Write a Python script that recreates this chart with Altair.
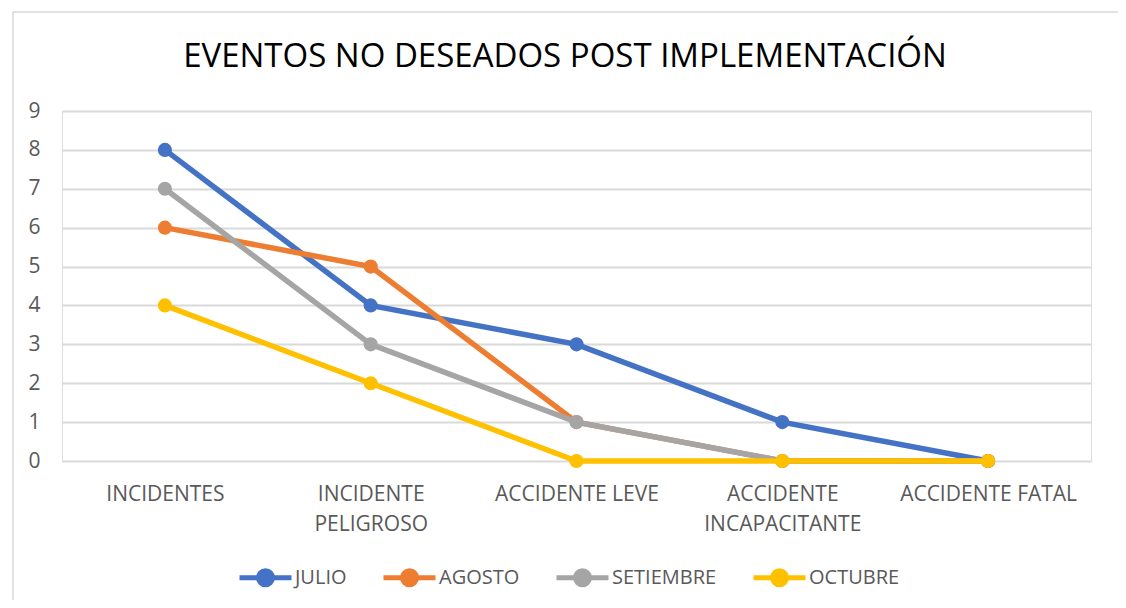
import altair as alt
import pandas as pd

title_text = "EVENTOS NO DESEADOS POST IMPLEMENTACIÓN"
categories = ["INCIDENTES", "INCIDENTE PELIGROSO", "ACCIDENTE LEVE",
              "ACCIDENTE INCAPACITANTE", "ACCIDENTE FATAL"]
series_names = ["JULIO", "AGOSTO", "SETIEMBRE", "OCTUBRE"]
julio = [8, 4, 3, 1, 0]
agosto = [6, 5, 1, 0, 0]
setiembre = [7, 3, 1, 0, 0]
octubre = [4, 2, 0, 0, 0]
colors = ["#4472C4", "#ED7D31", "#A5A5A5", "#FFC000"]

rows = []
for i, (name, vals) in enumerate(zip(series_names, [julio, agosto, setiembre, octubre])):
    for c, v in zip(categories, vals):
        rows.append({"cat": c, "serie": name, "val": v, "ord": i})
df = pd.DataFrame(rows)

FONT = "Open Sans, sans-serif"

legend_path = ("M -1 0 L 1 0 M 0.27 0 A 0.27 0.27 0 1 1 -0.27 0 "
               "A 0.27 0.27 0 1 1 0.27 0 Z")

leg = alt.Legend(title=None, orient="none", direction="horizontal",
                 legendX=175, legendY=438,
                 symbolType=legend_path, symbolSize=2704,
                 symbolStrokeWidth=5, symbolOpacity=1, labelFontSize=20,
                 labelColor="#595959", labelFont=FONT,
                 labelOffset=1, columnPadding=26)

x_enc = alt.X("cat:N", sort=categories, title=None,
              scale=alt.Scale(paddingInner=0, paddingOuter=0, align=0.5),
              axis=alt.Axis(labelAngle=0, ticks=False, domain=False, grid=False,
                            labelPadding=22, labelFontSize=21, labelColor="#595959",
                            labelFont=FONT, labelLineHeight=30, labelLimit=300,
                            labelExpr="(datum.label == 'INCIDENTE PELIGROSO' || datum.label == 'ACCIDENTE INCAPACITANTE') ? split(datum.label, ' ') : datum.label"))
y_enc = alt.Y("val:Q", title=None,
              scale=alt.Scale(domain=[0, 9], nice=False),
              axis=alt.Axis(values=list(range(10)), ticks=False, domain=False,
                            gridColor="#D9D9D9", gridWidth=2, labelPadding=22,
                            labelFontSize=21, labelColor="#595959", labelFont=FONT))

base = alt.Chart(df)
lines = base.mark_line(strokeWidth=5.5).encode(
    x=x_enc, y=y_enc,
    stroke=alt.Stroke("serie:N", sort=series_names,
                      scale=alt.Scale(domain=series_names, range=colors), legend=leg),
    detail="serie:N",
)
points = base.mark_point(size=200, filled=True, opacity=1, strokeWidth=0).encode(
    x=x_enc, y=y_enc,
    fill=alt.Fill("serie:N", sort=series_names,
                  scale=alt.Scale(domain=series_names, range=colors), legend=leg),
)

single = alt.Data(values=[{"t": title_text}])
frame = alt.Chart(single).mark_rect(
    fill=None, stroke="#D9D9D9", strokeWidth=1.5, clip=False
).encode(x=alt.value(-49), x2=alt.value(1058), y=alt.value(-99), y2=alt.value(640))

title = alt.Chart(single).mark_text(
    font=FONT, fontSize=33, color="#000000", align="center", baseline="middle"
).encode(text="t:N", x=alt.value(503), y=alt.value(-54))

layers = [frame, title]
for name in series_names:
    layers.append(lines.transform_filter(alt.datum.serie == name))
    layers.append(points.transform_filter(alt.datum.serie == name))

chart = alt.layer(*layers).properties(
    width=1029, height=350,
    autosize=alt.AutoSizeParams(type="none"),
    padding={"left": 54, "top": 103, "right": 27, "bottom": 139},
).configure_view(stroke=None).configure(background="white")

chart.save("out.html", embed_options={"renderer": "svg", "actions": False})
